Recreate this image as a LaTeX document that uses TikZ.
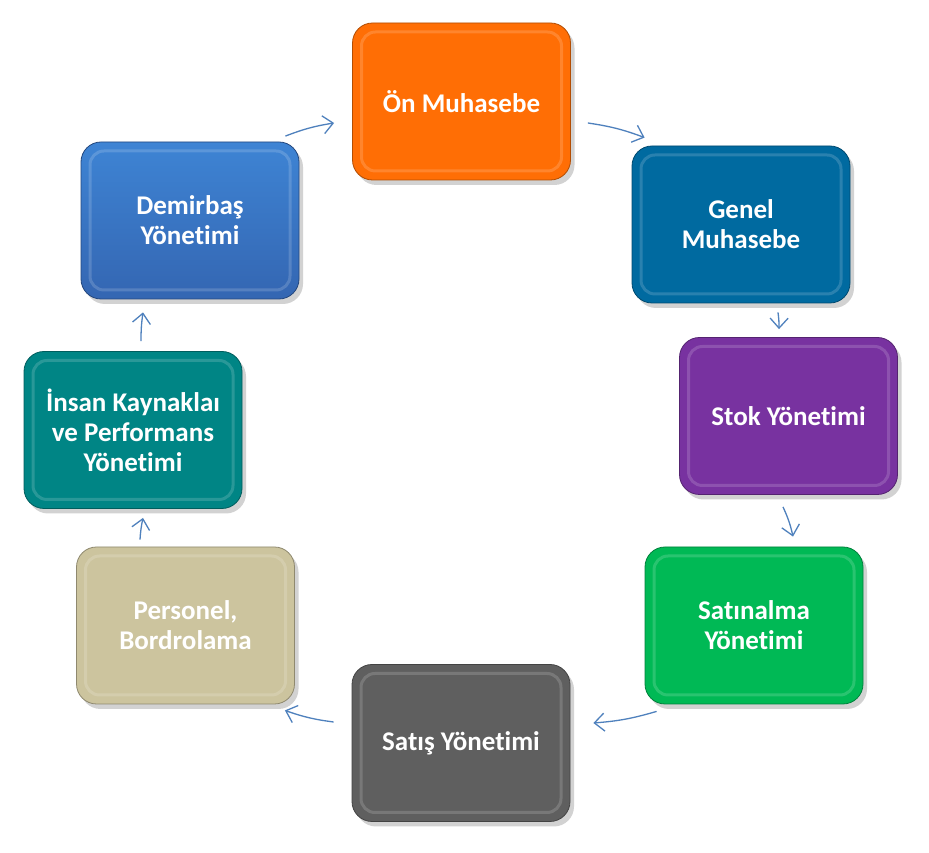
\documentclass[tikz,border=0pt]{standalone}
\usepackage{fontspec}
\setmainfont{Carlito}[Ligatures=NoCommon]
\usetikzlibrary{positioning, shadows, calc, arrows.meta}
\definecolor{Box-Orange}{RGB}{255,110,5}
\definecolor{Box-Steel}{RGB}{0,106,160}
\definecolor{Box-Purple}{RGB}{120,50,160}
\definecolor{Box-Green}{RGB}{0,185,85}
\definecolor{Box-Gray}{RGB}{95,95,95}
\definecolor{Box-Sand}{RGB}{204,196,158}
\definecolor{Box-Teal}{RGB}{0,133,133}
\definecolor{Box-Blue-Top}{RGB}{62,132,212}
\definecolor{Box-Blue-Bot}{RGB}{52,102,178}
\definecolor{Arrow-Blue}{RGB}{79,129,189}

\begin{document}
\begin{tikzpicture}[x=1pt, y=1pt]
      \tikzset{ box/.style ={rounded corners=20pt, minimum width=218pt, minimum height=157pt, text=white, align=center, line width=0.8pt, font=\bfseries\fontsize{27}{30}\selectfont,
                             drop shadow={shadow xshift=4pt, shadow yshift=-5pt, opacity=0.35},
                             path picture={\draw[white, opacity=0.16, line width=3pt, rounded corners=14pt] ([shift={(9pt,9pt)}]path picture bounding box.south west) rectangle ([shift={(-9pt,-9pt)}]path picture bounding box.north east);}} }
      \tikzset{ onm/.style ={box, fill=Box-Orange, draw=Box-Orange!70!black                            } }
      \tikzset{ gnl/.style ={box, fill=Box-Steel,  draw=Box-Steel!70!black                             } }
      \tikzset{ stk/.style ={box, fill=Box-Purple, draw=Box-Purple!70!black                            } }
      \tikzset{ stn/.style ={box, fill=Box-Green,  draw=Box-Green!70!black                             } }
      \tikzset{ sts/.style ={box, fill=Box-Gray,   draw=Box-Gray!70!black                              } }
      \tikzset{ prs/.style ={box, fill=Box-Sand,   draw=Box-Sand!70!black                              } }
      \tikzset{ ikp/.style ={box, fill=Box-Teal,   draw=Box-Teal!70!black                              } }
      \tikzset{ dmr/.style ={box, top color=Box-Blue-Top, bottom color=Box-Blue-Bot, draw=Box-Blue-Bot!70!black} }
      \tikzset{ flow/.style={draw=Arrow-Blue, line width=1.3pt, -{Straight Barb[length=10pt, width=18pt]}} }

      \path[use as bounding box, fill=white] (0, 0) rectangle (929, 853);

      \node[onm] (onm) at (461.5, 751.5) {Ön Muhasebe};
      \node[gnl] (gnl) at (741.0, 628.5) {Genel\\Muhasebe};
      \node[stk] (stk) at (788.5, 437.0) {Stok Yönetimi};
      \node[stn] (stn) at (754.0, 227.5) {Satınalma\\Yönetimi};
      \node[sts] (sts) at (461.0, 110.0) {Satış Yönetimi};
      \node[prs] (prs) at (185.5, 227.5) {Personel,\\Bordrolama};
      \node[ikp] (ikp) at (133.0, 423.0) {İnsan Kaynaklaı\\ve Performans\\Yönetimi};
      \node[dmr] (dmr) at (190.0, 632.5) {Demirbaş\\Yönetimi};

      \draw[flow] ($(dmr.north east)+(-14,5.5)$) to[bend left=6] ($(onm.west)+(-18,-21.5)$);
      \draw[flow] ($(onm.east)+(17,-21.5)$)      to[bend left=6] ($(gnl.north west)+(13,8)$);
      \draw[flow] ($(gnl.south)+(37,-9)$)        to[bend left=4] ($(stk.north)+(-9.5,8)$);
      \draw[flow] ($(stk.south)+(-5.5,-12)$)     to[bend left=6] ($(stn.north)+(39,10)$);
      \draw[flow] ($(stn.south west)+(12,-7)$)   to[bend left=6] ($(sts.east)+(23,20)$);
      \draw[flow] ($(sts.west)+(-18,21)$)        to[bend left=6] ($(prs.south east)+(-10,-6)$);
      \draw[flow] ($(prs.north)+(-45.5,7)$)      to[bend left=4] ($(ikp.south)+(10,-9)$);
      \draw[flow] ($(ikp.north)+(8,10)$)         to[bend left=4] ($(dmr.south)+(-47,-13)$);
    \end{tikzpicture}
\end{document}
